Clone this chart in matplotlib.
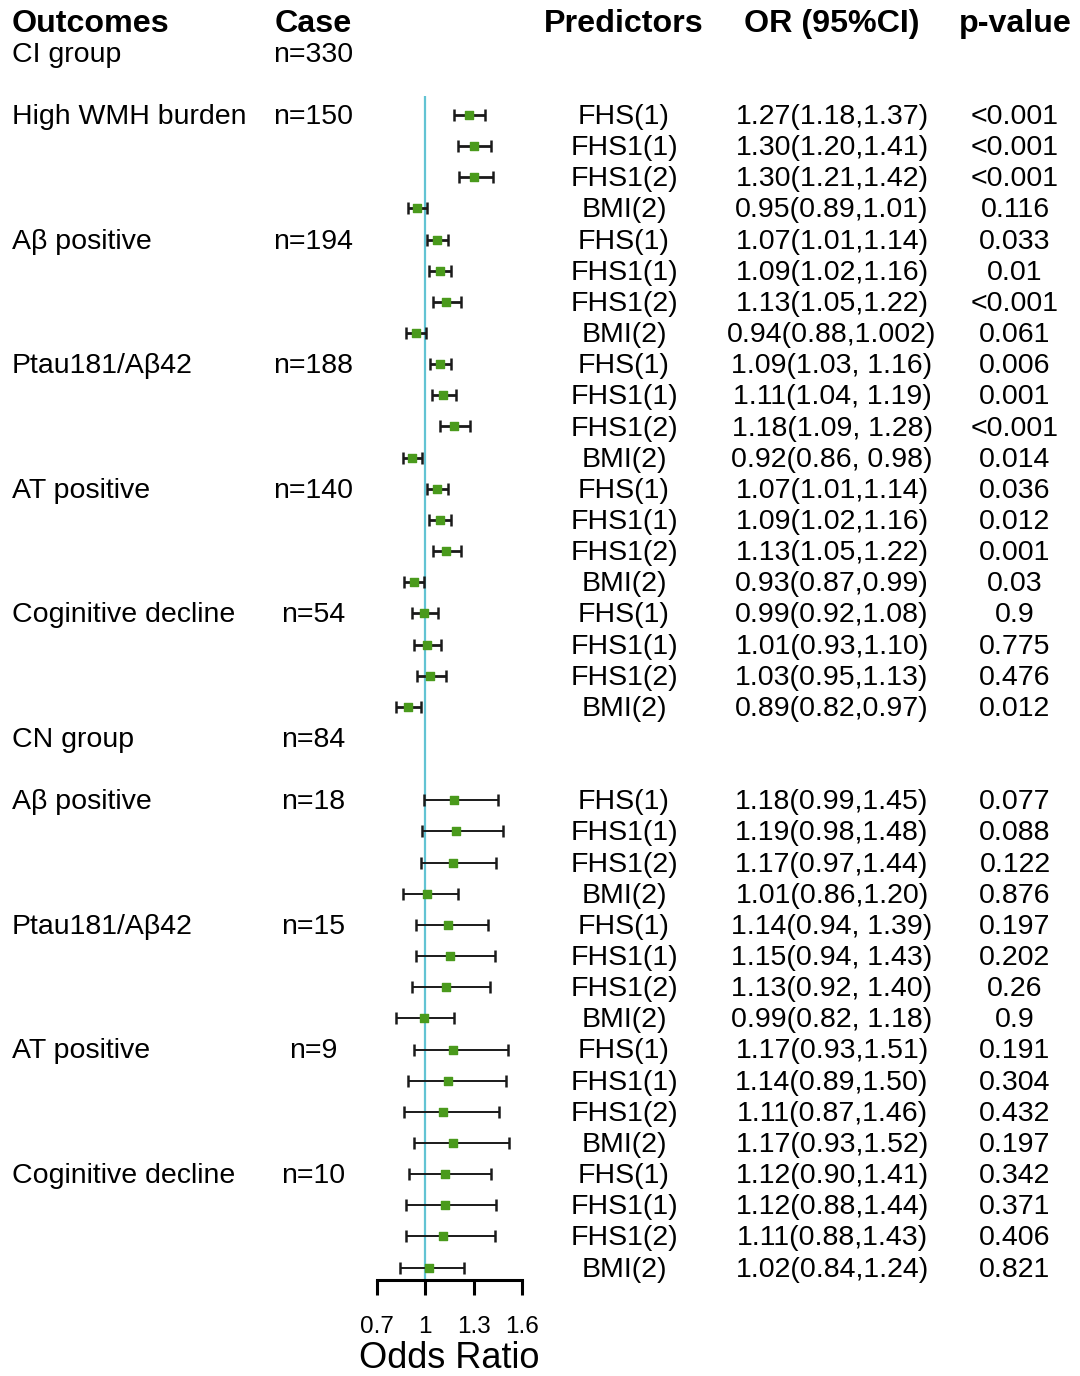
import matplotlib
matplotlib.use("Agg")
import matplotlib.pyplot as plt
import matplotlib.transforms as mtransforms

plt.rcParams["font.family"] = ["Liberation Sans", "DejaVu Sans"]

# outcome blocks: (group row label, case count)
ci_outcomes = ["High WMH burden", "Aβ positive", "Ptau181/Aβ42", "AT positive", "Coginitive decline"]
ci_cases = ["n=150", "n=194", "n=188", "n=140", "n=54"]
cn_outcomes = ["Aβ positive", "Ptau181/Aβ42", "AT positive", "Coginitive decline"]
cn_cases = ["n=18", "n=15", "n=9", "n=10"]
predictors = ["FHS(1)", "FHS1(1)", "FHS1(2)", "BMI(2)"]

ci_or = [1.27, 1.30, 1.30, 0.95, 1.07, 1.09, 1.13, 0.94, 1.09, 1.11, 1.18, 0.92,
         1.07, 1.09, 1.13, 0.93, 0.99, 1.01, 1.03, 0.89]
ci_lo = [1.18, 1.20, 1.21, 0.89, 1.01, 1.02, 1.05, 0.88, 1.03, 1.04, 1.09, 0.86,
         1.01, 1.02, 1.05, 0.87, 0.92, 0.93, 0.95, 0.82]
ci_hi = [1.37, 1.41, 1.42, 1.01, 1.14, 1.16, 1.22, 1.002, 1.16, 1.19, 1.28, 0.98,
         1.14, 1.16, 1.22, 0.99, 1.08, 1.10, 1.13, 0.97]
ci_p = ["<0.001", "<0.001", "<0.001", "0.116", "0.033", "0.01", "<0.001", "0.061",
        "0.006", "0.001", "<0.001", "0.014", "0.036", "0.012", "0.001", "0.03",
        "0.9", "0.775", "0.476", "0.012"]

cn_or = [1.18, 1.19, 1.17, 1.01, 1.14, 1.15, 1.13, 0.99, 1.17, 1.14, 1.11, 1.17,
         1.12, 1.12, 1.11, 1.02]
cn_lo = [0.99, 0.98, 0.97, 0.86, 0.94, 0.94, 0.92, 0.82, 0.93, 0.89, 0.87, 0.93,
         0.90, 0.88, 0.88, 0.84]
cn_hi = [1.45, 1.48, 1.44, 1.20, 1.39, 1.43, 1.40, 1.18, 1.51, 1.50, 1.46, 1.52,
         1.41, 1.44, 1.43, 1.24]
cn_p = ["0.077", "0.088", "0.122", "0.876", "0.197", "0.202", "0.26", "0.9",
        "0.191", "0.304", "0.432", "0.197", "0.342", "0.371", "0.406", "0.821"]

# rows where the CI separator has a space after the comma
spaced_ci = {8, 9, 10, 11}
spaced_cn = {4, 5, 6, 7}

x_ticks = [0.7, 1, 1.3, 1.6]
x_ticklabels = ["0.7", "1", "1.3", "1.6"]


def fmt(v):
    s = f"{v:.3f}".rstrip("0")
    if len(s.split(".")[1]) < 2:
        s = f"{v:.2f}"
    return s


def or_label(o, lo, hi, spaced):
    sep = ", " if spaced else ","
    return f"{fmt(o)}({fmt(lo)}{sep}{fmt(hi)})"


W, H = 1080, 1376
fig = plt.figure(figsize=(W / 100, H / 100), dpi=100)

# forest panel: 0.7..1.6 spans pixels 377..522, row i sits at 115 + 31.15*i
row_h = 31.15
y_top_px, y_bot_px = 6, 1280
row_top = (y_top_px - 115) / row_h
row_bot = (y_bot_px - 115) / row_h
ax = fig.add_axes([377 / W, 1 - y_bot_px / H, 145 / W, (y_bot_px - y_top_px) / H])
ax.set_xlim(0.7, 1.6)
ax.set_ylim(row_bot, row_top)

ci_rows = list(range(0, 20))
cn_rows = list(range(22, 38))
rows = ci_rows + cn_rows
ors = ci_or + cn_or
los = ci_lo + cn_lo
his = ci_hi + cn_hi

ax.vlines(1, -0.62, row_bot, color="#62c3d3", lw=1.6, zorder=1)
for r, o, lo, hi in zip(rows, ors, los, his):
    lw = 2.0 if r < 20 else 1.4
    ax.errorbar(o, r, xerr=[[o - lo], [hi - o]], fmt="none", ecolor="#1a1a1a",
                elinewidth=lw, capsize=4.5, capthick=1.8, zorder=2, clip_on=False)
ax.scatter(ors, rows, marker="s", s=36, color="#4a9a1c", zorder=3, clip_on=False)

for side in ["top", "right", "left"]:
    ax.spines[side].set_visible(False)
ax.spines["bottom"].set_bounds(0.7, 1.6)
ax.spines["bottom"].set_linewidth(2.2)
ax.set_yticks([])
ax.set_xticks(x_ticks)
ax.set_xticklabels(x_ticklabels, fontsize=17.5)
ax.tick_params(axis="x", direction="out", length=11, width=2.2, pad=15)
ax.set_xlabel("Odds Ratio", fontsize=26, labelpad=2)
ax.patch.set_visible(False)

# table columns: x in figure fraction, y in forest rows (nudged 2px down)
tr = mtransforms.blended_transform_factory(fig.transFigure, ax.transData)
tr = tr + mtransforms.ScaledTranslation(0, -2 / 100, fig.dpi_scale_trans)
x_out, x_case, x_pred, x_or, x_p = 12 / W, 313 / W, 624 / W, 832 / W, 1015 / W
fs = 20.5
hfs = 23.2

def put(x, r, s, ha="center", weight="normal", size=fs):
    ax.text(x, r, s, transform=tr, ha=ha, va="center", fontsize=size,
            fontweight=weight, clip_on=False)

put(x_out, -3, "Outcomes", ha="left", weight="bold", size=hfs)
put(x_case, -3, "Case", weight="bold", size=hfs)
put(x_pred, -3, "Predictors", weight="bold", size=hfs)
put(x_or, -3, "OR (95%CI)", weight="bold", size=hfs)
put(x_p, -3, "p-value", weight="bold", size=hfs)

put(x_out, -2, "CI group", ha="left")
put(x_case, -2, "n=330")
put(x_out, 20, "CN group", ha="left")
put(x_case, 20, "n=84")

for k, (name, n) in enumerate(zip(ci_outcomes, ci_cases)):
    put(x_out, 4 * k, name, ha="left")
    put(x_case, 4 * k, n)
for k, (name, n) in enumerate(zip(cn_outcomes, cn_cases)):
    put(x_out, 22 + 4 * k, name, ha="left")
    put(x_case, 22 + 4 * k, n)

for i, r in enumerate(ci_rows):
    put(x_pred, r, predictors[i % 4])
    put(x_or, r, or_label(ci_or[i], ci_lo[i], ci_hi[i], i in spaced_ci))
    put(x_p, r, ci_p[i])
for i, r in enumerate(cn_rows):
    put(x_pred, r, predictors[i % 4])
    put(x_or, r, or_label(cn_or[i], cn_lo[i], cn_hi[i], i in spaced_cn))
    put(x_p, r, cn_p[i])

fig.savefig("out.png", dpi=100, facecolor="white")
